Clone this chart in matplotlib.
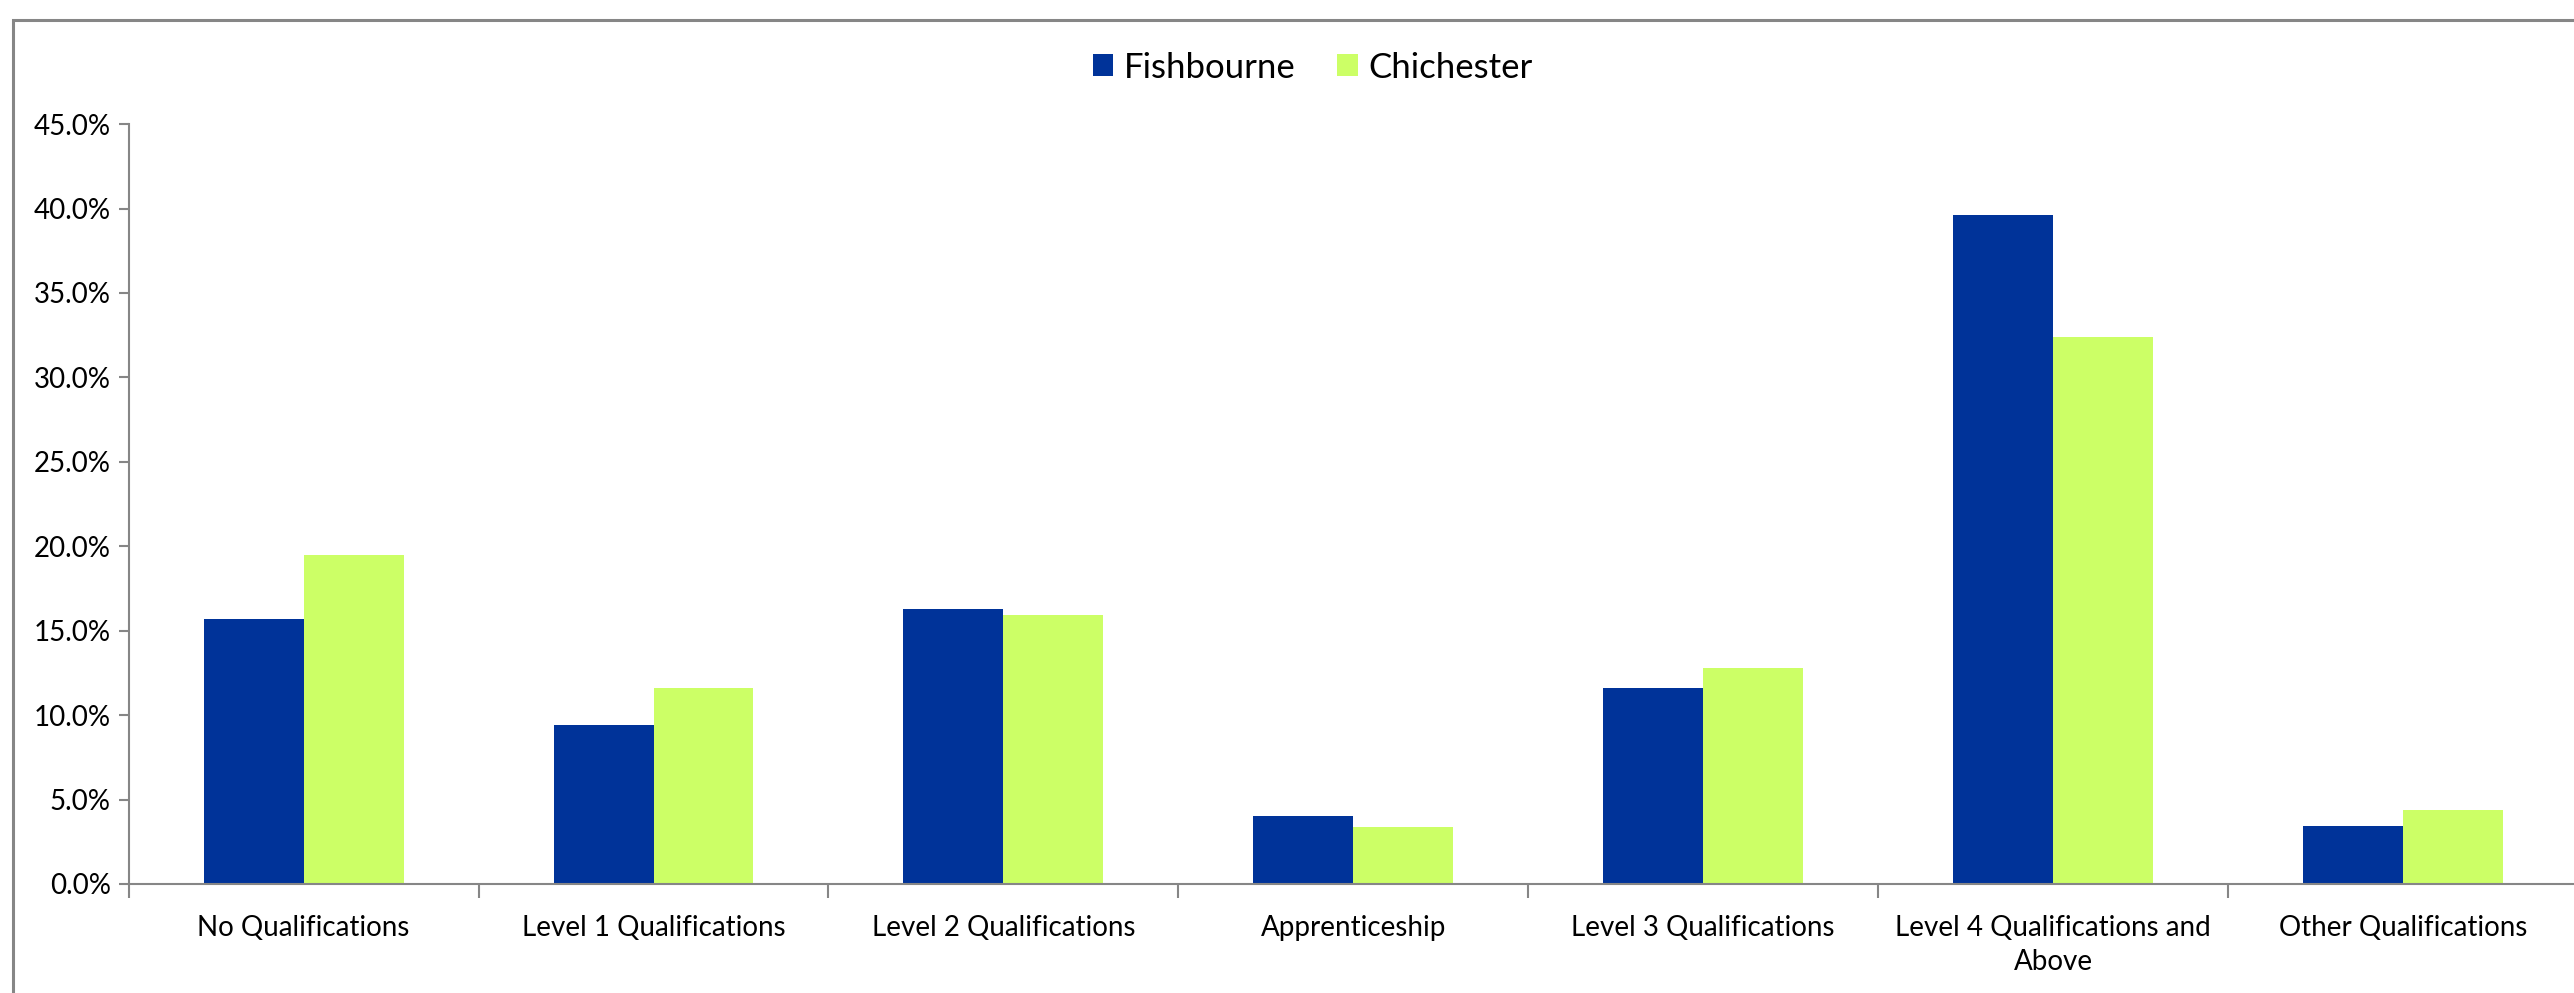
import numpy as np
import matplotlib
matplotlib.use("Agg")
import matplotlib.pyplot as plt
from matplotlib.patches import Rectangle
from matplotlib.ticker import PercentFormatter

# --------------------------------------
# DATA
# --------------------------------------

categories = [
    "No Qualifications",
    "Level 1 Qualifications",
    "Level 2 Qualifications",
    "Apprenticeship",
    "Level 3 Qualifications",
    "Level 4 Qualifications and\nAbove",
    "Other Qualifications",
]
fishbourne = [15.7, 9.4, 16.3, 4.0, 11.6, 39.6, 3.45]
chichester = [19.5, 11.6, 15.9, 3.4, 12.8, 32.4, 4.4]
y_ticks = [0, 5, 10, 15, 20, 25, 30, 35, 40, 45]

blue = "#003399"
green = "#CCFF66"
grey = "#868686"

plt.rcParams["font.family"] = ["Lato", "DejaVu Sans"]

# --------------------------------------
# FIGURE
# --------------------------------------

fig = plt.figure(figsize=(25.74, 9.93), dpi=100)
ax = fig.add_axes([0.0500, 0.1098, 0.9515, 0.7652])

# chart frame (partly cut off at right / bottom like the original)
fig.patches.append(Rectangle((13 / 2574, -0.05), 1.1, 1 - 20 / 993 + 0.05,
                             transform=fig.transFigure, fill=False,
                             edgecolor=grey, linewidth=2.2))

x = np.arange(len(categories))
w = 1 / 3.5
ax.bar(x - w / 2, fishbourne, width=w, color=blue, label="Fishbourne")
ax.bar(x + w / 2, chichester, width=w, color=green, label="Chichester")

ax.set_xlim(-0.5, len(categories) - 0.5)
ax.set_ylim(0, 45)
ax.set_yticks(y_ticks)
ax.yaxis.set_major_formatter(PercentFormatter(decimals=1))

# category boundaries as ticks, labels in the middle
ax.set_xticks(np.arange(len(categories) + 1) - 0.5)
ax.set_xticklabels([])
ax.set_xticks(x, minor=True)
ax.set_xticklabels(categories, minor=True, fontsize=20, linespacing=1.4)
ax.tick_params(axis="x", which="major", length=10, width=1.5, color=grey)
ax.tick_params(axis="x", which="minor", length=0, pad=22)
ax.tick_params(axis="y", length=7, width=1.5, color=grey, labelsize=20, pad=6)

for side in ["top", "right"]:
    ax.spines[side].set_visible(False)
for side in ["left", "bottom"]:
    ax.spines[side].set_color(grey)
    ax.spines[side].set_linewidth(1.5)

fig.legend(loc="center", bbox_to_anchor=(0.51, 0.932), ncol=2, frameon=False,
           fontsize=25, handlelength=0.6, handleheight=0.6, handletextpad=0.3,
           columnspacing=1.2)

fig.savefig("out.png", dpi=100)
